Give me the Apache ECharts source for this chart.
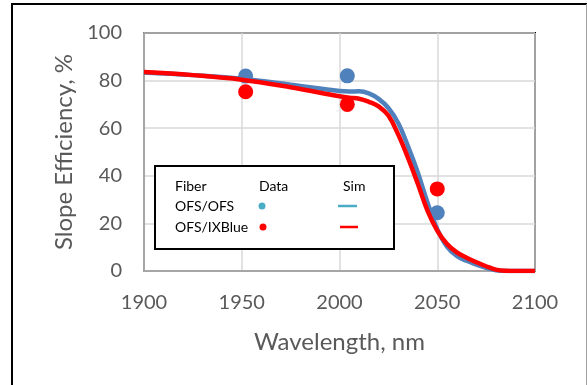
<!DOCTYPE html>
<html>
<head>
<meta charset="utf-8" />
<script src="https://cdn.jsdelivr.net/npm/echarts@6/dist/echarts.min.js"></script>
<style>
  html, body { margin: 0; padding: 0; background: #fff; }
  #chart { width: 587px; height: 385px; }
</style>
</head>
<body>
<div id="chart"></div>
<script>
// 数据：波长 (nm) 与斜率效率 (%)
const simWavelength = [1900, 1925, 1950, 1975, 2000, 2005, 2010, 2015, 2020, 2025, 2030, 2035, 2040, 2045, 2050, 2055, 2060, 2065, 2070, 2075, 2080, 2085, 2090, 2100]
const simOfsOfs = [83.4, 82.3, 80.8, 78.3, 75.6, 75.4, 75.5, 74.6, 72.3, 68.5, 62.2, 52.5, 41.5, 28.8, 17.6, 10.2, 6.3, 4.3, 2.7, 1.3, 0.3, 0, 0, 0]
const simOfsIxblue = [83.6, 82.3, 80.4, 77.2, 73.4, 72.8, 72.4, 71.1, 69.2, 65.3, 57.4, 47.6, 36.8, 25.4, 17.0, 11.3, 7.8, 5.6, 3.7, 2.0, 0.6, 0.1, 0, 0]

const dataWavelength = [1952, 2004, 2050]
const dataOfsOfs = [81.9, 82.0, 24.5]
const dataOfsIxblue = [75.3, 70.0, 34.5]

const xTicks = [1900, 1950, 2000, 2050, 2100]
const yTicks = [0, 20, 40, 60, 80, 100]

const legendRows = ['OFS/OFS', 'OFS/IXBlue']

const BLUE = '#4f81bd'
const RED = '#ff0000'
const TEXT = '#595959'
const FONT = 'Lato, "Open Sans", sans-serif'

const pairs = (xs, ys) => xs.map((x, i) => [x, ys[i]])

const chart = echarts.init(document.getElementById('chart'), null, { renderer: 'canvas' })

// 图例用 graphic 画成表格样式
const legendX = 155
const legendY = 166
const legendGraphic = [
  {
    type: 'rect',
    shape: { x: legendX, y: legendY, width: 239, height: 83 },
    style: { fill: '#fff', stroke: '#000', lineWidth: 2 },
    z: 100,
  },
  ...['Fiber', 'Data', 'Sim'].map((t, i) => ({
    type: 'text',
    x: [175, 259, 343][i],
    y: 186,
    style: { text: t, font: '14px ' + FONT, fill: '#000', verticalAlign: 'middle' },
    z: 101,
  })),
  ...legendRows.map((t, i) => ({
    type: 'text',
    x: 175,
    y: 206 + i * 21,
    style: { text: t, font: '14px ' + FONT, fill: '#000', verticalAlign: 'middle' },
    z: 101,
  })),
  { type: 'circle', shape: { cx: 262, cy: 206, r: 3.5 }, style: { fill: '#4bacc6' }, z: 101 },
  { type: 'circle', shape: { cx: 263, cy: 227, r: 3.5 }, style: { fill: RED }, z: 101 },
  { type: 'line', shape: { x1: 338, y1: 206, x2: 357, y2: 206 }, style: { stroke: '#4bacc6', lineWidth: 2.5 }, z: 101 },
  { type: 'line', shape: { x1: 340, y1: 227, x2: 358, y2: 227 }, style: { stroke: RED, lineWidth: 2.5 }, z: 101 },
]

// 外框（左、上黑色，右侧浅灰）
const frameGraphic = [
  { type: 'line', shape: { x1: 12, y1: 4, x2: 12, y2: 400 }, style: { stroke: '#000', lineWidth: 2 } },
  { type: 'line', shape: { x1: 11, y1: 4, x2: 587, y2: 4 }, style: { stroke: '#000', lineWidth: 2 } },
  { type: 'line', shape: { x1: 586.5, y1: 4, x2: 586.5, y2: 400 }, style: { stroke: '#a0a0a0', lineWidth: 1 } },
]

const lineSeries = (name, ys, color) => ({
  name,
  type: 'line',
  data: pairs(simWavelength, ys),
  smooth: 0.4,
  showSymbol: false,
  lineStyle: { color, width: 4.5 },
  z: 5,
})

const dotSeries = (name, ys, color) => ({
  name,
  type: 'scatter',
  data: pairs(dataWavelength, ys),
  symbolSize: 15,
  itemStyle: { color, opacity: 1 },
  z: 3,
})

chart.setOption({
  animation: false,
  textStyle: { fontFamily: FONT },
  grid: {
    left: 144,
    right: 52,
    top: 33,
    bottom: 114,
    show: true,
    borderColor: '#000',
    borderWidth: 2,
  },
  xAxis: {
    type: 'value',
    min: xTicks[0],
    max: xTicks[xTicks.length - 1],
    interval: 50,
    name: 'Wavelength, nm',
    nameLocation: 'middle',
    nameGap: 59,
    nameTextStyle: { color: TEXT, fontSize: 24 },
    axisLine: { show: true, lineStyle: { color: '#a6a6a6', width: 2 } },
    axisTick: { show: false },
    axisLabel: { color: TEXT, fontSize: 20, margin: 22, formatter: (v) => String(v) },
    splitLine: { show: true, lineStyle: { color: '#d9d9d9', width: 1.5 } },
  },
  yAxis: {
    type: 'value',
    min: yTicks[0],
    max: yTicks[yTicks.length - 1],
    interval: 20,
    name: 'Slope Efficiency, %',
    nameLocation: 'middle',
    nameGap: 68,
    nameTextStyle: { color: TEXT, fontSize: 24 },
    axisLine: { show: true, lineStyle: { color: '#a6a6a6', width: 2 } },
    axisTick: { show: false },
    axisLabel: { color: TEXT, fontSize: 20, margin: 22 },
    splitLine: { show: true, lineStyle: { color: '#d9d9d9', width: 1.5 } },
  },
  series: [
    dotSeries('OFS/OFS Data', dataOfsOfs, BLUE),
    dotSeries('OFS/IXBlue Data', dataOfsIxblue, RED),
    lineSeries('OFS/OFS Sim', simOfsOfs, BLUE),
    lineSeries('OFS/IXBlue Sim', simOfsIxblue, RED),
  ],
  graphic: [...frameGraphic, ...legendGraphic],
})
</script>
</body>
</html>
